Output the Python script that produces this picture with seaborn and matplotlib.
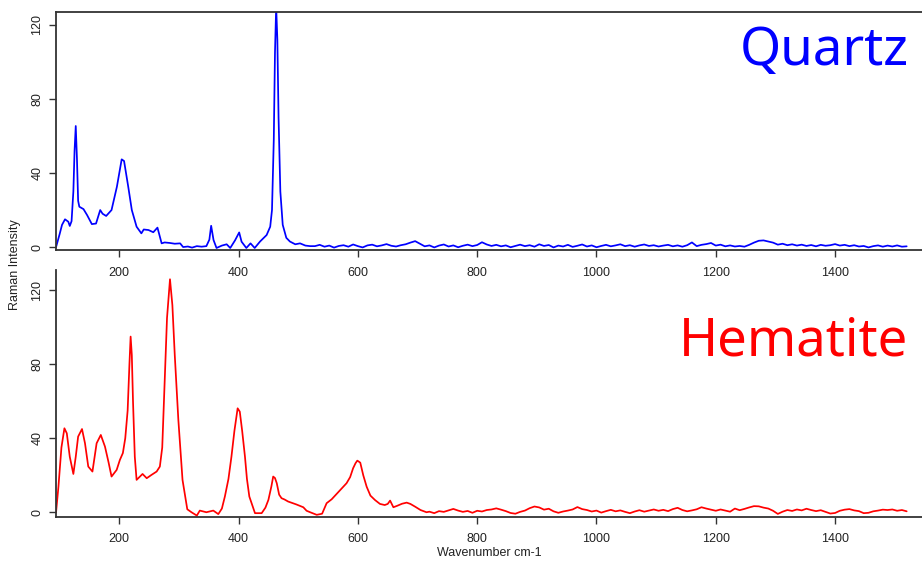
import numpy as np
import pandas as pd
import seaborn as sns
import matplotlib.pyplot as plt

# Quartz spectrum (wavenumber cm-1 / intensity)
quartz_wn = [94, 100, 104, 109, 114.5, 117, 120, 123, 125, 127, 129, 131, 133, 140, 146,
             154, 161, 168, 172, 178, 187, 196, 204, 208, 215, 221, 229, 237, 241, 249,
             257, 264, 271, 276, 285, 293, 302, 307, 315, 322, 330, 338, 346, 351, 354,
             358, 363, 372, 380, 386, 394, 401, 405, 413, 420, 427, 436, 447, 453, 456,
             459, 461, 463, 465, 467, 470, 474, 480, 486, 495, 503, 512, 520]
quartz_int = [0, 7, 12, 15, 13.7, 11.4, 14, 30, 52, 65.4, 48, 25, 21.8, 20.5, 17.3,
              12.4, 12.7, 20, 18, 16.8, 20, 32.6, 47.4, 46.5, 32.6, 20, 11, 7.4, 9.5, 9.2,
              8, 10.5, 2, 2.5, 2.2, 1.8, 2.0, 0, 0.3, -0.3, 0.5, 0.2, 0.5, 4, 11.5,
              3.8, -0.5, 0.8, 1.5, -0.5, 3.6, 7.9, 2.9, -0.5, 2.0, -0.5, 3.0, 6.5, 11, 20,
              58, 105, 130, 112, 70, 30, 12, 5, 3, 1.5, 2.0, 0.8, 0.5]

quartz_base_wn = [528, 536, 544, 552, 560, 568, 576, 584, 592, 600, 608, 616, 624, 632, 640,
                  648, 656, 664, 672, 680, 688, 696, 704, 712, 720, 728, 736, 744, 752, 760,
                  768, 776, 784, 792, 800, 808, 816, 824, 832, 840, 848, 856, 864, 872, 880,
                  888, 896, 904, 912, 920, 928, 936, 944, 952, 960, 968, 976, 984, 992, 1000,
                  1008, 1016, 1024, 1032, 1040, 1048, 1056, 1064, 1072, 1080, 1088, 1096, 1104,
                  1112, 1120, 1128, 1136, 1144, 1152, 1160, 1168, 1176, 1184, 1192, 1200, 1208,
                  1216, 1224, 1232, 1240, 1248, 1256, 1264, 1272, 1280, 1288, 1296, 1304, 1312,
                  1320, 1328, 1336, 1344, 1352, 1360, 1368, 1376, 1384, 1392, 1400, 1408, 1416,
                  1424, 1432, 1440, 1448, 1456, 1464, 1472, 1480, 1488, 1496, 1504, 1512, 1520]
quartz_base_int = [0.5, 1.2, 0.2, 0.8, -0.3, 0.6, 1.0, 0.2, 1.4, 0.5, -0.2, 0.9, 1.3, 0.4, 0.9,
                   1.6, 0.7, 0.3, 1.0, 1.5, 2.4, 3.2, 1.8, 0.4, 0.9, -0.2, 0.8, 1.4, 0.3, 0.9,
                   -0.1, 0.7, 1.3, 0.5, 1.1, 2.6, 1.4, 0.6, 1.2, 0.4, 0.9, -0.1, 0.6, 1.3, 0.5,
                   1.0, 0.2, 1.5, 0.6, 1.1, -0.2, 0.8, 0.3, 1.2, 0.1, 0.7, 1.4, 0.3, 0.9, -0.1,
                   0.6, 1.2, 0.4, 0.9, 1.5, 0.5, 1.0, 0.2, 0.9, 1.4, 0.6, 1.0, 0.3,
                   0.8, 1.2, 0.4, 0.9, 0.2, 1.0, 2.5, 0.5, 1.2, 1.6, 2.2, 0.8, 1.3,
                   0.4, 0.9, 0.3, 0.6, 0.2, 1.2, 2.4, 3.4, 3.6, 3.0, 2.4, 1.3, 1.8,
                   1.0, 1.5, 0.8, 1.3, 0.6, 1.1, 0.4, 1.2, 0.7, 1.0, 1.6, 0.8, 1.2,
                   0.5, 1.0, 0.3, 0.6, -0.2, 0.5, 0.9, 0.2, 0.8, 0.3, 0.9, 0.2, 0.4]

# Hematite spectrum
hematite_wn = [94, 98, 103, 108, 112, 117, 123, 127, 131, 137.5, 142.5, 148, 155, 162, 169,
               176, 182, 187, 195.6, 201, 206, 210, 214, 217, 219, 221, 223, 226, 229, 234.7,
               239, 246, 254, 262.6, 268, 272, 276, 280, 285, 289, 293, 299, 306, 314, 321,
               330, 335, 346, 357.6, 366, 372, 377, 383, 388, 393, 398.4, 402, 406, 410.7, 414,
               418, 427.5, 438.7, 445, 450, 455, 458, 461, 464, 468, 472, 477, 483, 490, 497,
               503, 508.5, 514, 520,
               531, 540, 547.6, 556, 564.4, 572, 581, 587, 592, 596, 599, 601, 604, 609,
               614.7, 621, 628.7, 637, 645, 650, 654, 659.5, 666, 674, 681.8, 688, 696, 705, 715]
hematite_int = [0, 13.9, 35, 45.4, 42.7, 30, 20.7, 30, 40.9, 45, 37.3, 24.7, 22, 37.3, 41.8,
                35.5, 27, 19.3, 22.9, 28.3, 32, 40, 55, 80, 95, 85, 60, 30, 17.5, 19.3,
                20.7, 18.4, 20.2, 22, 24.7, 35, 70, 105, 126, 112, 85, 50, 17.5, 1.6, 0,
                -1.8, 0.9, 0, 0.9, -1, 2, 8.5, 18, 30, 44, 56.2, 54.4, 44, 30, 18,
                8.5, -0.5, -0.5, 2.5, 6.7, 14, 19.3, 18.5, 15.7, 9.5, 7.6, 6.9, 5.8, 5.0, 4.2,
                3.4, 2.7, 0.8, 0,
                -1.4, -0.8, 4.9, 7, 9.9, 12.5, 15.7, 19, 23.8, 26.5, 27.9, 27.5, 26.8, 20,
                13.8, 9, 6.6, 4.5, 3.9, 4.5, 6.3, 2.7, 3.5, 4.6, 5.2, 4.5, 3, 1.2, 0]

hematite_base_wn = [720, 728, 736, 744, 752, 760, 768, 776, 784, 792, 800, 808, 816, 824, 832,
                    840, 848, 856, 864, 872, 880, 888, 896, 904, 912, 920, 928, 936, 944, 952,
                    960, 968, 976, 984, 992, 1000, 1008, 1016, 1024, 1032, 1040, 1048, 1056,
                    1064, 1072, 1080, 1088, 1096, 1104, 1112, 1120, 1128, 1136, 1144, 1152,
                    1160, 1168, 1176, 1184, 1192, 1200, 1208, 1216, 1224, 1232, 1240, 1248,
                    1256, 1264, 1272, 1280, 1288, 1296, 1304, 1312, 1320, 1328, 1336, 1344,
                    1352, 1360, 1368, 1376, 1384, 1392, 1400, 1408, 1416, 1424, 1432, 1440,
                    1448, 1456, 1464, 1472, 1480, 1488, 1496, 1504, 1512, 1520]
hematite_base_int = [0.3, -0.5, 0.6, 0.2, 1.0, 1.8, 0.9, 0.2, 0.7, -0.3, 0.8, 0.4, 1.2, 1.5, 2.1,
                     1.4, 0.6, -0.4, -0.8, 0.2, 0.9, 2.2, 3.1, 2.6, 1.4, 1.9, 0.5, -0.3, 0.4, 0.9,
                     1.5, 2.8, 1.7, 1.2, 0.4, 0.9, -0.2, 0.6, 1.3, 0.5, 1.0, 0.2, -0.5,
                     0.4, 1.1, 0.3, 0.9, 1.5, 0.8, 1.3, 0.6, 1.7, 2.4, 1.2, 0.5,
                     1.0, 1.6, 2.7, 2.0, 1.4, 0.8, 1.5, 0.9, 0.3, 2.0, 1.1, 1.8,
                     2.6, 3.3, 3.2, 2.5, 2.0, 0.8, -0.9, 0.3, 1.2, 0.7, 1.5, 1.0,
                     1.9, 1.2, 0.6, 1.1, 0.2, -0.7, -0.4, 0.8, 1.4, 1.7, 1.0, 0.6,
                     -0.5, -0.3, 0.5, 0.9, 1.4, 1.2, 1.5, 0.8, 1.2, 0.5]

x_ticks = [200, 400, 600, 800, 1000, 1200, 1400]
y_ticks = [0, 40, 80, 120]


def make_frame(wn_a, int_a, wn_b, int_b):
    return pd.DataFrame({"wavenumber": list(wn_a) + list(wn_b),
                         "intensity": list(int_a) + list(int_b)})


sns.set_style("white")
plt.rcParams['font.family'] = ['Liberation Sans', 'DejaVu Sans']

quartz = make_frame(quartz_wn, quartz_int, quartz_base_wn, quartz_base_int)
hematite = make_frame(hematite_wn, hematite_int, hematite_base_wn, hematite_base_int)

fig = plt.figure(figsize=(9.22, 5.64), dpi=100)
ax_top = fig.add_axes([56 / 922, 0.5567, 1 - 56 / 922, 0.4220])
ax_bot = fig.add_axes([56 / 922, 0.0839, 1 - 56 / 922, 0.4374])

axis_color = "#333333"
for ax, df, color, ylim in [(ax_top, quartz, "#0000ff", (-1.6, 127.0)),
                            (ax_bot, hematite, "#ff0000", (-2.4, 131.0))]:
    sns.lineplot(data=df, x="wavenumber", y="intensity", ax=ax, color=color,
                 linewidth=1.25, estimator=None, sort=False)
    ax.set_xlim(93.9, 1545.7)
    ax.set_ylim(*ylim)
    ax.set_xticks(x_ticks)
    ax.set_yticks(y_ticks)
    ax.set_xlabel("")
    ax.set_ylabel("")
    ax.tick_params(axis="both", direction="out", length=5, width=1,
                   color=axis_color, labelcolor="#222222", labelsize=9,
                   bottom=True, left=True)
    ax.tick_params(axis="x", pad=7)
    ax.tick_params(axis="y", pad=4)
    for lbl in ax.get_yticklabels():
        lbl.set_rotation(90)
        lbl.set_va("center")
    ax.spines["right"].set_visible(False)
    for side in ["left", "bottom", "top"]:
        ax.spines[side].set_color(axis_color)
        ax.spines[side].set_linewidth(1.3)
    ax.patch.set_alpha(0)

ax_bot.spines["top"].set_visible(False)

fig.text(909 / 922, (564 - 65) / 564, "Quartz", color="#0000ff", fontsize=38,
         family="Noto Sans", ha="right", va="baseline")
fig.text(908 / 922, (564 - 355) / 564, "Hematite", color="#ff0000", fontsize=38,
         family="Noto Sans", ha="right", va="baseline")

fig.text(15 / 922, (564 - 265) / 564, "Raman Intensity", rotation=90,
         ha="center", va="center", fontsize=9, color="#222222")
fig.text(489 / 922, (564 - 553) / 564, "Wavenumber cm-1",
         ha="center", va="center", fontsize=9, color="#222222")

fig.savefig("out.png", dpi=100)
plt.close(fig)
